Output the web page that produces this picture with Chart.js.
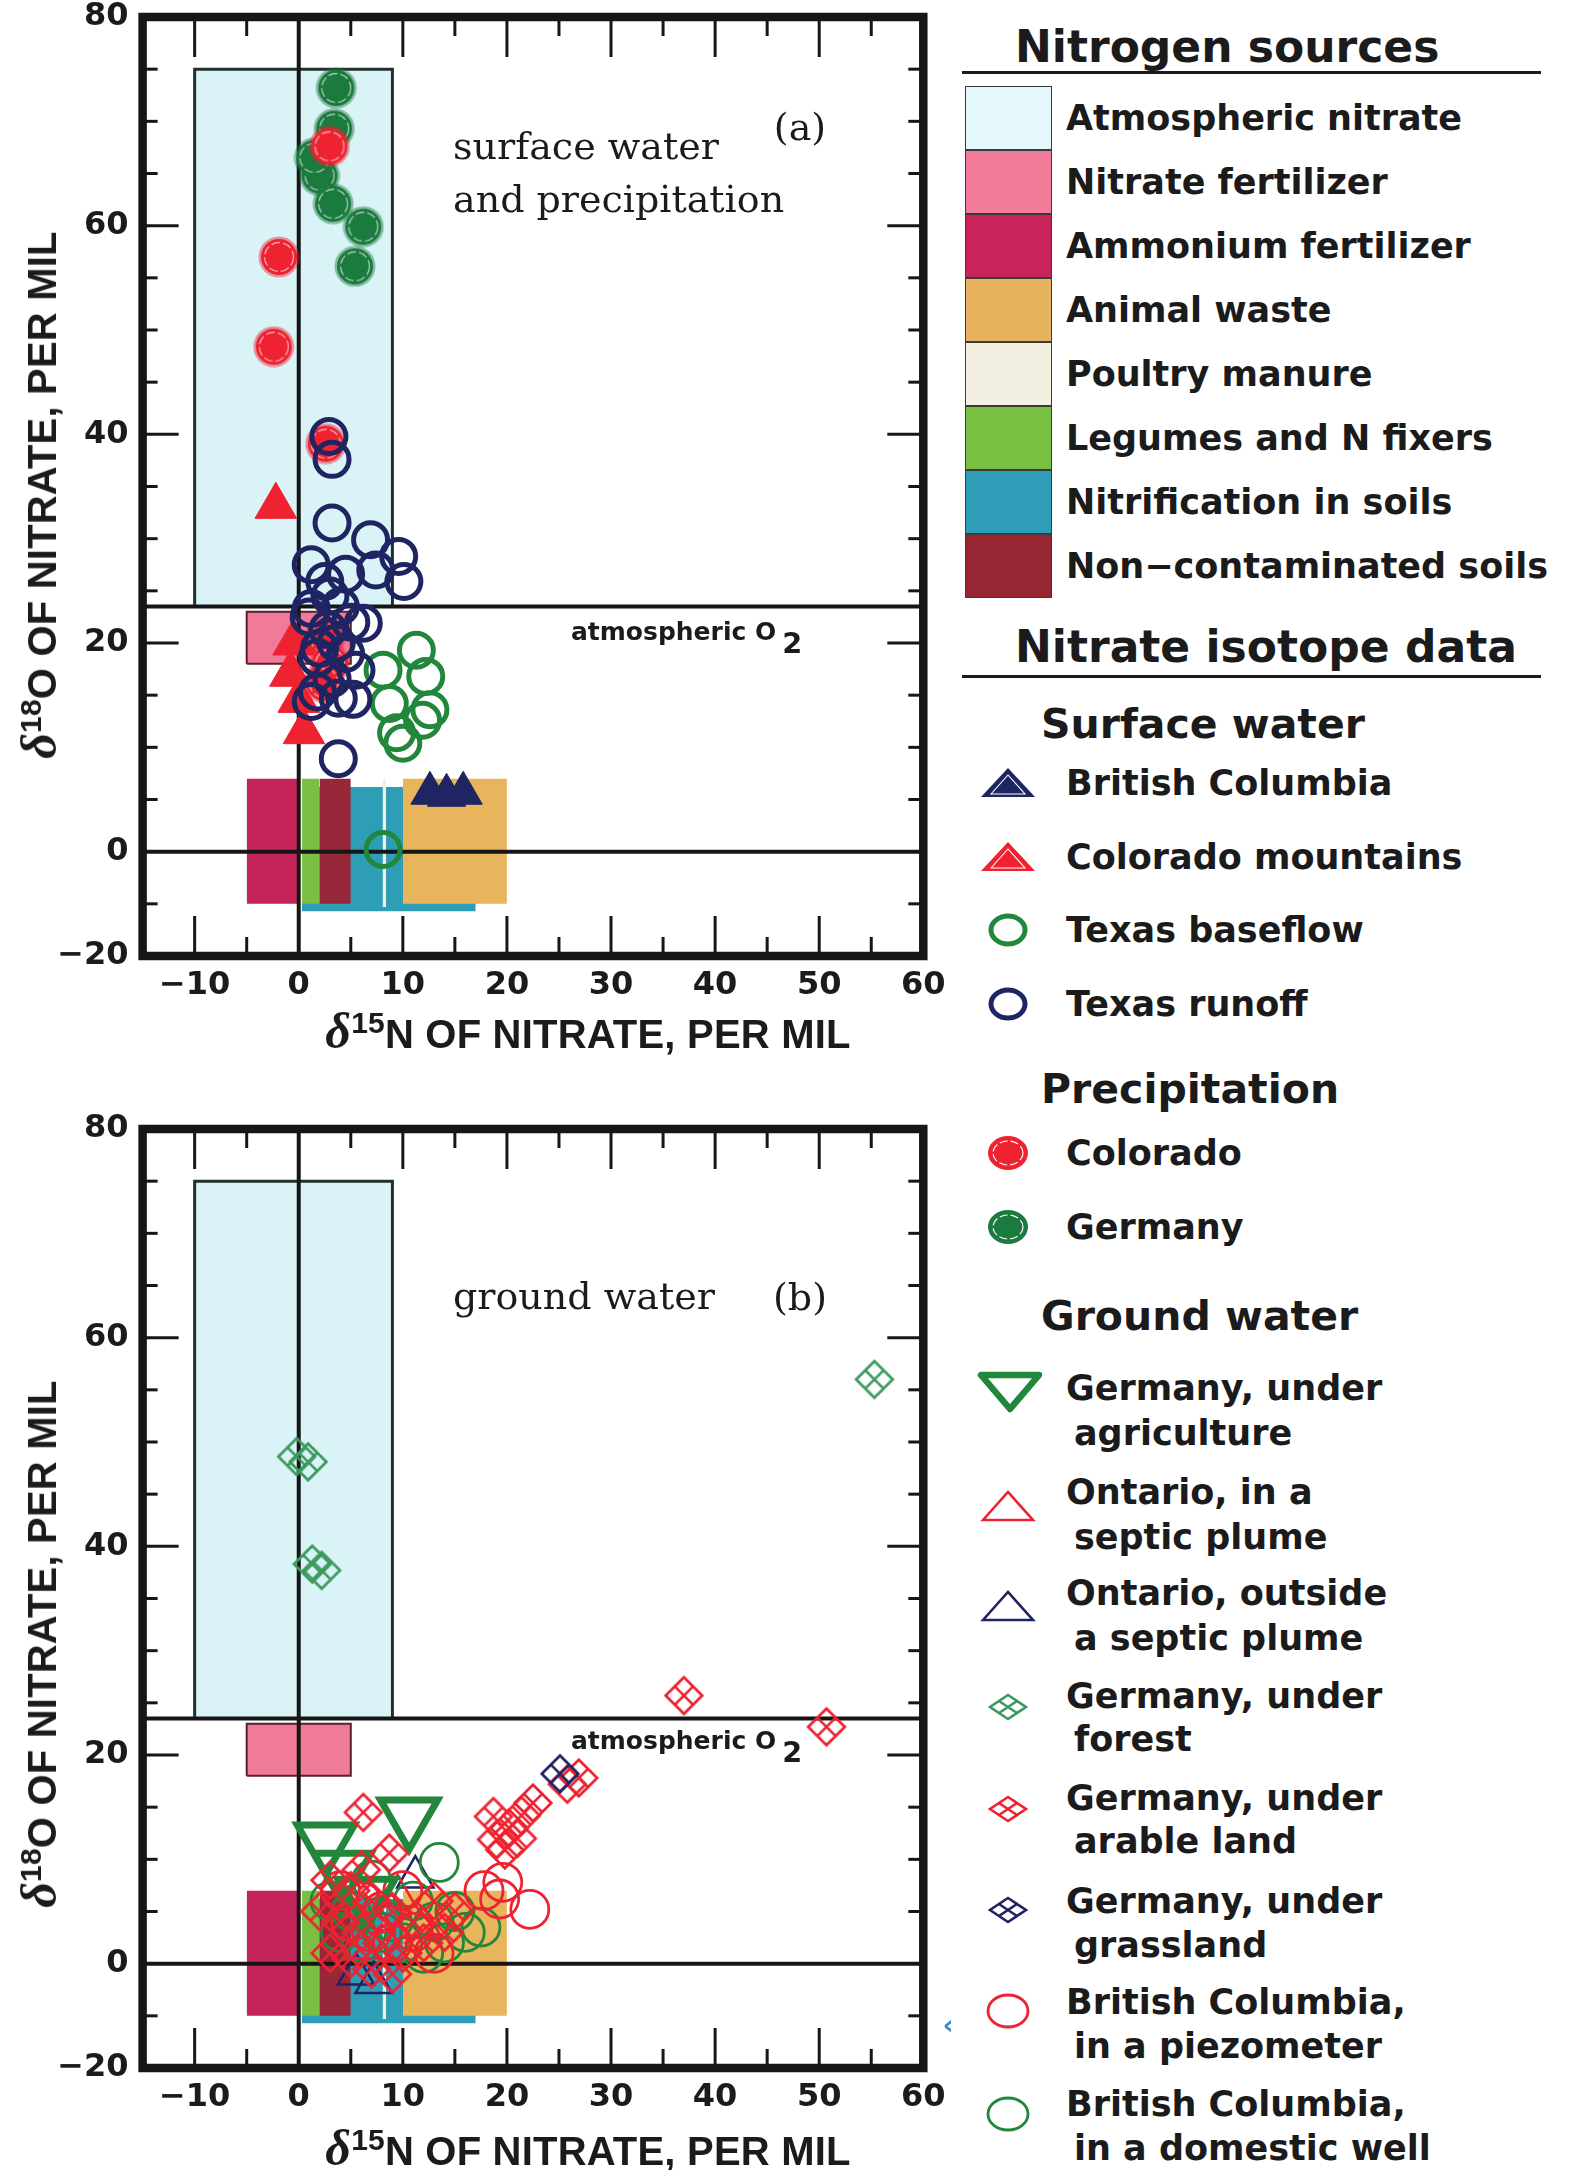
<!DOCTYPE html>
<html lang="en"><head><meta charset="utf-8"><title>Nitrate isotope data and nitrogen sources</title>
<script src="https://cdn.jsdelivr.net/npm/chart.js@4.4.1/dist/chart.umd.min.js"></script>
<style>
html,body{margin:0;padding:0;background:#fff}
body{position:relative;width:1574px;height:2170px;overflow:hidden;color:#1b1b1b}
canvas.panel{position:absolute;left:0}
.t{position:absolute;white-space:nowrap;line-height:1}
.axt{font:bold 40px "Liberation Sans",Arial,sans-serif;letter-spacing:0.2px}
.axt .d{font-family:"Liberation Serif",serif;font-style:italic;font-size:1.25em;font-weight:bold}
.axt .s{font-size:0.75em;position:relative;top:-0.5em}
.serif{font:38px "DejaVu Serif",serif}
.atm{font:bold 25px "DejaVu Sans",sans-serif}
.atm .s2{position:relative;top:0.45em;margin-left:6px;font-size:1.15em}
.h1{font:bold 44px "DejaVu Sans",sans-serif}
.h2{font:bold 41px "DejaVu Sans",sans-serif}
.it{font:bold 35px "DejaVu Sans",sans-serif}
.rule{position:absolute;height:3px;background:#1b1b1b}
.sw{position:absolute;left:965px;width:87px;height:64px;box-sizing:border-box;border:1.5px solid #3a3a3a}
svg.mk{position:absolute}
.vc{transform:translateY(-50%)}
.cc{transform:translate(-50%,-50%)}
</style></head><body>
<canvas id="pa" class="panel" width="960" height="1080" style="top:-40px"></canvas>
<canvas id="pb" class="panel" width="960" height="1080" style="top:1072px"></canvas>

<!-- axis titles -->
<div class="t axt" style="left:39px;top:495px;transform:translate(-50%,-50%) rotate(-90deg)"><span class="d">δ</span><span class="s">18</span>O OF NITRATE, PER MIL</div>
<div class="t axt cc" style="left:588px;top:1031px"><span class="d">δ</span><span class="s">15</span>N OF NITRATE, PER MIL</div>
<div class="t axt" style="left:39px;top:1644px;transform:translate(-50%,-50%) rotate(-90deg)"><span class="d">δ</span><span class="s">18</span>O OF NITRATE, PER MIL</div>
<div class="t axt cc" style="left:588px;top:2148px"><span class="d">δ</span><span class="s">15</span>N OF NITRATE, PER MIL</div>

<!-- panel annotations -->
<div class="t serif vc" style="left:453px;top:146px">surface water</div>
<div class="t serif vc" style="left:453px;top:199px">and precipitation</div>
<div class="t serif cc" style="left:800px;top:127px">(a)</div>
<div class="t atm vc" style="left:571px;top:630px">atmospheric O<span class="s2">2</span></div>
<div class="t serif vc" style="left:453px;top:1296px">ground water</div>
<div class="t serif cc" style="left:800px;top:1297px">(b)</div>
<div class="t atm vc" style="left:571px;top:1739px">atmospheric O<span class="s2">2</span></div>

<!-- legend: nitrogen sources -->
<div class="t h1 vc" style="left:1015px;top:46px">Nitrogen sources</div>
<div class="rule" style="left:962px;top:71px;width:579px"></div>
<div class="sw" style="top:86px;background:#e4f7fa"></div>
<div class="sw" style="top:150px;background:#f27b9a"></div>
<div class="sw" style="top:214px;background:#c8245a"></div>
<div class="sw" style="top:278px;background:#e6b25e"></div>
<div class="sw" style="top:342px;background:#f3f0e2"></div>
<div class="sw" style="top:406px;background:#79c143"></div>
<div class="sw" style="top:470px;background:#2f9db7"></div>
<div class="sw" style="top:534px;background:#952632"></div>
<div class="t it vc" style="left:1066px;top:118px">Atmospheric nitrate</div>
<div class="t it vc" style="left:1066px;top:182px">Nitrate fertilizer</div>
<div class="t it vc" style="left:1066px;top:246px">Ammonium fertilizer</div>
<div class="t it vc" style="left:1066px;top:310px">Animal waste</div>
<div class="t it vc" style="left:1066px;top:374px">Poultry manure</div>
<div class="t it vc" style="left:1066px;top:438px">Legumes and N fixers</div>
<div class="t it vc" style="left:1066px;top:502px">Nitrification in soils</div>
<div class="t it vc" style="left:1066px;top:566px">Non−contaminated soils</div>

<!-- legend: nitrate isotope data -->
<div class="t h1 vc" style="left:1015px;top:646px">Nitrate isotope data</div>
<div class="rule" style="left:962px;top:675px;width:579px"></div>
<div class="t h2 vc" style="left:1041px;top:724px">Surface water</div>
<div class="t it vc" style="left:1066px;top:783px">British Columbia</div>
<div class="t it vc" style="left:1066px;top:857px">Colorado mountains</div>
<div class="t it vc" style="left:1066px;top:930px">Texas baseflow</div>
<div class="t it vc" style="left:1066px;top:1004px">Texas runoff</div>
<div class="t h2 vc" style="left:1041px;top:1089px">Precipitation</div>
<div class="t it vc" style="left:1066px;top:1153px">Colorado</div>
<div class="t it vc" style="left:1066px;top:1227px">Germany</div>
<div class="t h2 vc" style="left:1041px;top:1316px">Ground water</div>
<div class="t it vc" style="left:1066px;top:1388px">Germany, under</div>
<div class="t it vc" style="left:1074px;top:1433px">agriculture</div>
<div class="t it vc" style="left:1066px;top:1492px">Ontario, in a</div>
<div class="t it vc" style="left:1074px;top:1537px">septic plume</div>
<div class="t it vc" style="left:1066px;top:1593px">Ontario, outside</div>
<div class="t it vc" style="left:1074px;top:1638px">a septic plume</div>
<div class="t it vc" style="left:1066px;top:1696px">Germany, under</div>
<div class="t it vc" style="left:1074px;top:1739px">forest</div>
<div class="t it vc" style="left:1066px;top:1798px">Germany, under</div>
<div class="t it vc" style="left:1074px;top:1841px">arable land</div>
<div class="t it vc" style="left:1066px;top:1901px">Germany, under</div>
<div class="t it vc" style="left:1074px;top:1945px">grassland</div>
<div class="t it vc" style="left:1066px;top:2002px">British Columbia,</div>
<div class="t it vc" style="left:1074px;top:2046px">in a piezometer</div>
<div class="t it vc" style="left:1066px;top:2104px">British Columbia,</div>
<div class="t it vc" style="left:1074px;top:2148px">in a domestic well</div>
<div class="t cc" style="left:948px;top:2025px;font:bold 26px 'DejaVu Sans';color:#3a86c8">‹</div>

<script>
// ================= DATA =================
const xTickValues = [-10, 0, 10, 20, 30, 40, 50, 60];
const xTickLabels = ['−10', '0', '10', '20', '30', '40', '50', '60'];
const yTickValues = [-10, 0, 20, 40, 60, 80];
const yTickLabels = ['−20', '0', '20', '40', '60', '80'];
const xRange = [-15, 60];
const yRange = [-10, 80];
const atmosphericO2 = 23.5;

// nitrogen source fields: [xmin, xmax, ymin, ymax]
const boxAtmospheric   = [-10, 9, 23.5, 75];
const boxNitrateFert   = [-5, 5, 18, 23];
const boxAmmoniumFert  = [-5, 0, -5, 7];
const boxNitrification = [0.3, 17, -5.7, 6.2];
const boxLegumes       = [0.3, 2, -5, 7];
const boxNonContam     = [2, 5, -5, 7];
const boxPoultry       = [8.05, 8.4, -5.3, 7];
const boxAnimalWaste   = [10, 20, -5, 7];

// (a) surface water and precipitation  [δ15N, δ18O]
const swBritishColumbia = [[12.6, 5.6], [14.2, 5.4], [15.8, 5.6]];
const swColoradoMtns = [[-2.2, 33.1], [-0.5, 20.0], [-0.8, 17.0], [0.0, 14.5], [0.5, 11.5]];
const swTexasBaseflow = [[11.3, 19.3], [8.1, 17.4], [12.2, 16.8], [12.6, 13.6], [8.7, 14.2],
  [9.4, 11.4], [11.9, 12.6], [10.0, 10.4], [8.1, 0.2]];
const swTexasRunoff = [[2.9, 39.8], [3.2, 37.6], [3.2, 31.5], [6.9, 29.9], [9.6, 28.3], [10.1, 25.9],
  [1.2, 27.5], [2.5, 25.9], [4.5, 26.6], [1.2, 23.3], [2.8, 21.3], [1.8, 18.6], [3.2, 16.6],
  [1.8, 15.3], [3.8, 14.7], [1.2, 14.4], [3.8, 8.9], [7.4, 27.0], [4.0, 23.5], [3.0, 24.5],
  [5.0, 22.0], [6.2, 21.9], [3.6, 20.0], [5.5, 17.4], [2.0, 19.5], [5.2, 14.6], [1.0, 22.5], [4.5, 19.0]];
const prColorado = [[2.95, 67.6], [-1.9, 57.0], [-2.4, 48.4], [2.6, 39.1], [2.5, 20.5], [3.0, 18.0], [2.4, 16.2]];
const prGermany = [[3.6, 73.2], [3.4, 69.3], [2.0, 64.8], [1.5, 66.5], [3.3, 62.1], [6.2, 59.9], [5.4, 56.1]];

// (b) ground water
const gwGerAgriculture = [[10.6, 14.1], [2.6, 11.7], [4.2, 9.0], [6.5, 6.5]];
const gwOntarioInPlume = [[4.5, 5.5], [7.5, 4.0], [9.5, 6.5], [12.0, 3.5], [6.0, 1.5]];
const gwOntarioOutPlume = [[11.2, 8.3], [5.5, -1.0], [7.2, -1.8]];
const gwGerForest = [[-0.2, 48.6], [0.9, 48.1], [1.3, 38.3], [2.2, 37.7], [55.3, 56.0]];
const gwGerArable = [[6.2, 14.5], [8.7, 10.6], [18.7, 14.1], [19.0, 11.9], [20.2, 13.0], [21.4, 14.2],
  [22.5, 15.4], [19.8, 10.9], [21.0, 12.0], [26.9, 17.8], [25.8, 17.2], [37.0, 25.7], [50.7, 22.7],
  [3.0, 8.0], [5.0, 7.0], [7.0, 6.0], [9.0, 5.0], [11.0, 4.0], [4.0, 4.0], [6.0, 3.0], [8.0, 2.0],
  [10.0, 1.0], [12.0, 2.0], [14.0, 3.0], [3.0, 1.0], [5.0, 0.5], [7.0, -0.5], [9.0, -1.0],
  [2.0, 5.0], [13.0, 6.0], [15.0, 5.0], [6.0, 9.0]];
const gwGerGrassland = [[25.1, 18.2]];
const gwBCPiezometer = [[19.6, 7.8], [22.2, 5.2], [19.3, 6.2], [17.8, 7.0], [5, 4], [7, 3], [9, 2],
  [11, 3], [6, 6], [8, 5], [10, 7], [4, 7], [13, 1]];
const gwBCDomesticWell = [[13.5, 9.7], [4, 3], [6, 2], [8, 3], [10, 2], [12, 1], [14, 2], [16, 3],
  [15, 5], [5, 5], [9, 4], [11, 6], [7, 8], [3, 6], [13, 4], [17.5, 3.5]];

// ================= STYLE / BUILD =================
const COL = {
  ink: '#161616', navy: '#1f2462', red: '#ee2230', green: '#22873b', dgreen: '#1b7a3d',
  fgreen: '#3b9a5e', atm: '#daf3f7', nitFert: '#f07b98', amm: '#c5245a', nitrif: '#2e9db6',
  leg: '#7bbf44', nonc: '#97283a', poul: '#f4f0e0', anim: '#e8b45c'
};

function pts(a) { return a.map(p => ({x: p[0], y: p[1]})); }
function boxFill(b, color, order) {
  return {type: 'line', data: [{x: b[0], y: b[3]}, {x: b[1], y: b[3]}], fill: {value: b[2]},
    backgroundColor: color, borderColor: 'rgba(0,0,0,0)', borderWidth: 0, pointRadius: 0, order};
}
function boxLine(b, color, width, order) {
  return {type: 'line', data: [{x: b[0], y: b[2]}, {x: b[1], y: b[2]}, {x: b[1], y: b[3]}, {x: b[0], y: b[3]}, {x: b[0], y: b[2]}],
    fill: false, borderColor: color, borderWidth: width, pointRadius: 0, order};
}
function refLine(p1, p2) {
  return {type: 'line', data: [{x: p1[0], y: p1[1]}, {x: p2[0], y: p2[1]}], fill: false,
    borderColor: COL.ink, borderWidth: 4, pointRadius: 0, order: 50};
}
function sourceDatasets() {
  return [
    boxFill(boxAtmospheric, COL.atm, 110), boxLine(boxAtmospheric, '#22302f', 3, 109),
    boxFill(boxNitrateFert, COL.nitFert, 108), boxLine(boxNitrateFert, '#5a2030', 2, 107),
    boxFill(boxNitrification, COL.nitrif, 106),
    boxFill(boxAmmoniumFert, COL.amm, 104), boxFill(boxLegumes, COL.leg, 104),
    boxFill(boxNonContam, COL.nonc, 104), boxFill(boxAnimalWaste, COL.anim, 104),
    boxFill(boxPoultry, COL.poul, 103),
    refLine([0, yRange[0]], [0, yRange[1]]),
    refLine([xRange[0], 0], [xRange[1], 0]),
    refLine([xRange[0], atmosphericO2], [xRange[1], atmosphericO2])
  ];
}

function diamondImage(color, size, lw) {
  const c = document.createElement('canvas'); c.width = c.height = size;
  const g = c.getContext('2d'); const r = size / 2 - lw; const m = size / 2;
  g.strokeStyle = color; g.lineWidth = lw;
  g.beginPath(); g.moveTo(m, m - r); g.lineTo(m + r, m); g.lineTo(m, m + r); g.lineTo(m - r, m); g.closePath();
  g.moveTo(m + r / 2, m - r / 2); g.lineTo(m - r / 2, m + r / 2);
  g.moveTo(m - r / 2, m - r / 2); g.lineTo(m + r / 2, m + r / 2);
  g.stroke(); return c;
}
function dotImage(color, size) {
  const c = document.createElement('canvas'); c.width = c.height = size;
  const g = c.getContext('2d'); const m = size / 2;
  g.fillStyle = color; g.globalAlpha = 0.45; g.beginPath(); g.arc(m, m, m - 0.5, 0, Math.PI * 2); g.fill();
  g.globalAlpha = 1; g.beginPath(); g.arc(m, m, m - 3, 0, Math.PI * 2); g.fill();
  g.strokeStyle = 'rgba(255,255,255,0.6)'; g.lineWidth = 1.3; g.setLineDash([9, 3]);
  g.beginPath(); g.arc(m, m, m - 6.5, 0, Math.PI * 2); g.stroke();
  return c;
}

function scatterSet(a, extra) {
  return Object.assign({type: 'scatter', data: pts(a), showLine: false}, extra);
}

const framePlugin = {
  id: 'frame',
  afterDatasetsDraw(chart) {
    const {ctx, chartArea: a, scales: {x, y}} = chart;
    ctx.save();
    ctx.strokeStyle = COL.ink; ctx.lineCap = 'butt';
    ctx.lineWidth = 3;
    const ln = (x1, y1, x2, y2) => { ctx.beginPath(); ctx.moveTo(x1, y1); ctx.lineTo(x2, y2); ctx.stroke(); };
    for (let v = -10; v < 60; v += 5) {
      if (v === 0) continue;
      const px = x.getPixelForValue(v); const L = v % 10 === 0 ? 40 : 19;
      ln(px, a.top, px, a.top + L); ln(px, a.bottom, px, a.bottom - L);
    }
    for (let v = -5; v < 80; v += 5) {
      if (v === 0) continue;
      const py = y.getPixelForValue(v); const L = v % 20 === 0 ? 36 : 15;
      ln(a.left, py, a.left + L, py); ln(a.right, py, a.right - L, py);
    }
    ctx.lineWidth = 8.5;
    ctx.strokeRect(a.left, a.top, a.right - a.left, a.bottom - a.top);
    ctx.restore();
  }
};

function makePanel(id, pointSets) {
  const tickFont = {family: 'DejaVu Sans', weight: 'bold', size: 32};
  return new Chart(document.getElementById(id), {
    type: 'scatter',
    data: {datasets: pointSets.concat(sourceDatasets())},
    options: {
      responsive: false, animation: false, devicePixelRatio: 1,
      layout: {autoPadding: false, padding: {left: 0, top: 57, right: 36.7, bottom: 24}},
      plugins: {legend: {display: false}, tooltip: {enabled: false}},
      scales: {
        x: {type: 'linear', min: xRange[0], max: xRange[1],
          grid: {display: false, drawTicks: false}, border: {display: false},
          afterBuildTicks: s => { s.ticks = xTickValues.map(v => ({value: v})); },
          afterFit: s => { s.height = 60; },
          ticks: {autoSkip: false, maxRotation: 0, padding: 10, color: '#1b1b1b', font: tickFont,
            callback: (v) => xTickLabels[xTickValues.indexOf(v)]}},
        y: {type: 'linear', min: yRange[0], max: yRange[1],
          grid: {display: false, drawTicks: false}, border: {display: false},
          afterBuildTicks: s => { s.ticks = yTickValues.map(v => ({value: v})); },
          afterFit: s => { s.width = 142.6; },
          ticks: {autoSkip: false, padding: 14, color: '#1b1b1b', font: tickFont,
            callback: (v) => yTickLabels[yTickValues.indexOf(v)]}}
      }
    },
    plugins: [framePlugin]
  });
}

// panel (a)
makePanel('pa', [
  scatterSet(swTexasRunoff, {pointStyle: 'circle', pointRadius: 17, borderWidth: 5, borderColor: COL.navy, backgroundColor: 'rgba(0,0,0,0)', order: 1}),
  scatterSet(swTexasBaseflow, {pointStyle: 'circle', pointRadius: 17, borderWidth: 5, borderColor: COL.green, backgroundColor: 'rgba(0,0,0,0)', order: 2}),
  scatterSet(swBritishColumbia, {pointStyle: 'triangle', pointRadius: 22, borderWidth: 1, borderColor: COL.navy, backgroundColor: COL.navy, order: 3}),
  scatterSet(prColorado, {pointStyle: dotImage(COL.red, 42), pointRadius: 20, order: 4}),
  scatterSet(prGermany, {pointStyle: dotImage(COL.dgreen, 42), pointRadius: 20, order: 5}),
  scatterSet(swColoradoMtns, {pointStyle: 'triangle', pointRadius: 24, borderWidth: 1, borderColor: COL.red, backgroundColor: COL.red, order: 6})
]);

// panel (b)
makePanel('pb', [
  scatterSet(gwGerForest, {pointStyle: diamondImage(COL.fgreen, 42, 2.7), pointRadius: 19, order: 1}),
  scatterSet(gwGerGrassland, {pointStyle: diamondImage(COL.navy, 42, 2.7), pointRadius: 19, order: 1}),
  scatterSet(gwGerArable, {pointStyle: diamondImage(COL.red, 42, 2.7), pointRadius: 19, order: 2}),
  scatterSet(gwGerAgriculture, {pointStyle: 'triangle', rotation: 180, pointRadius: 33, borderWidth: 7, borderColor: COL.green, backgroundColor: 'rgba(0,0,0,0)', order: 3}),
  scatterSet(gwBCPiezometer, {pointStyle: 'circle', pointRadius: 19, borderWidth: 2.8, borderColor: COL.red, backgroundColor: 'rgba(0,0,0,0)', order: 4}),
  scatterSet(gwBCDomesticWell, {pointStyle: 'circle', pointRadius: 19, borderWidth: 2.8, borderColor: COL.green, backgroundColor: 'rgba(0,0,0,0)', order: 5}),
  scatterSet(gwOntarioInPlume, {pointStyle: 'triangle', pointRadius: 21, borderWidth: 2.5, borderColor: COL.red, backgroundColor: 'rgba(0,0,0,0)', order: 6}),
  scatterSet(gwOntarioOutPlume, {pointStyle: 'triangle', pointRadius: 21, borderWidth: 2.5, borderColor: COL.navy, backgroundColor: 'rgba(0,0,0,0)', order: 7})
]);

// ============ legend markers (SVG) ============
function mk(cx, cy, w, h, inner) {
  document.body.insertAdjacentHTML('beforeend',
    `<svg class="mk" width="${w}" height="${h}" viewBox="0 0 ${w} ${h}" style="left:${cx - w / 2}px;top:${cy - h / 2}px">${inner}</svg>`);
}
const LX = 1008;
const tri = (c) => `<polygon points="2,31 29,2 56,31" fill="${c}"/><polygon points="12,28 29,9 46,28" fill="none" stroke="#fff" stroke-width="1.1"/>`;
const ring = (c, sw, rx, ry) => `<ellipse cx="29" cy="20" rx="${rx}" ry="${ry}" fill="none" stroke="${c}" stroke-width="${sw}"/>`;
const dot = (c) => `<ellipse cx="29" cy="20" rx="20" ry="17" fill="${c}"/><ellipse cx="29" cy="20" rx="15" ry="12" fill="none" stroke="#fff" stroke-width="1.2" stroke-dasharray="8 3"/>`;
const otri = (c) => `<polygon points="3,33 28,5 53,33" fill="none" stroke="${c}" stroke-width="2.6"/>`;
const dia = (c) => `<g fill="none" stroke="${c}" stroke-width="2.6"><polygon points="20,2 38,14 20,26 2,14"/><line x1="29" y1="8" x2="11" y2="20"/><line x1="11" y1="8" x2="29" y2="20"/></g>`;
mk(LX, 783, 58, 34, tri(COL.navy));
mk(LX, 857, 58, 34, tri(COL.red));
mk(LX, 930, 58, 40, ring(COL.green, 5, 17, 14));
mk(LX, 1004, 58, 40, ring(COL.navy, 5, 17, 14));
mk(LX, 1153, 58, 40, dot(COL.red));
mk(LX, 1227, 58, 40, dot(COL.dgreen));
mk(LX + 2, 1392, 68, 44, `<polygon points="5,5 63,5 34,39" fill="none" stroke="${COL.green}" stroke-width="6.5" stroke-linejoin="round"/>`);
mk(LX, 1506, 56, 38, otri(COL.red));
mk(LX, 1606, 56, 38, otri(COL.navy));
mk(LX, 1707, 40, 28, dia(COL.fgreen));
mk(LX, 1809, 40, 28, dia(COL.red));
mk(LX, 1910, 40, 28, dia(COL.navy));
mk(LX, 2011, 58, 40, ring(COL.red, 2.8, 20, 16));
mk(LX, 2114, 58, 40, ring(COL.green, 2.8, 20, 16));
</script>
</body></html>
